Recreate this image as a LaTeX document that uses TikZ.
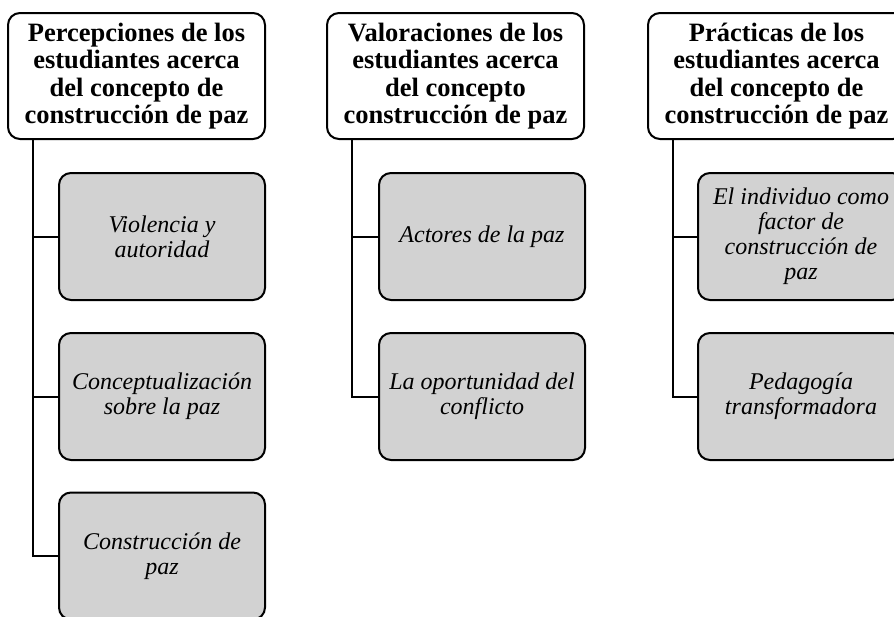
\documentclass[tikz,border=0pt]{standalone}
\usepackage{fontspec}
\setmainfont{Liberation Serif}
\begin{document}
\begin{tikzpicture}[x=1pt,y=-1pt,
  head/.style={draw=black, line width=2pt, rounded corners=12pt, fill=white,
    minimum width=257pt, minimum height=126pt, align=center, inner sep=0pt,
    font=\fontsize{26.5}{27.3}\selectfont\bfseries},
  child/.style={draw=black, line width=2pt, rounded corners=12pt, fill=gray!35,
    minimum width=206pt, minimum height=127pt, align=center, inner sep=0pt,
    font=\fontsize{24}{25}\selectfont\itshape},
  link/.style={draw=black, line width=2pt}]
\useasboundingbox (0,0) rectangle (894,616);
\clip (0,0) rectangle (894,616);
% column 1
\node[head] (h1) at (136.5,76) {Percepciones de los\\estudiantes acerca\\del concepto de\\construcción de paz};
\node[child] (c11) at (162,236.5) {Violencia y\\autoridad};
\node[child] (c12) at (162,396.5) {Conceptualización\\sobre la paz};
\node[child] (c13) at (162,556) {Construcción de\\paz};
% column 2
\node[head] (h2) at (455.5,76) {Valoraciones de los\\estudiantes acerca\\del concepto\\construcción de paz};
\node[child] (c21) at (482,236.5) {Actores de la paz};
\node[child] (c22) at (482,396.5) {La oportunidad del\\conflicto};
% column 3
\node[head] (h3) at (776.5,76) {Prácticas de los\\estudiantes acerca\\del concepto de\\construcción de paz};
\node[child] (c31) at (801,236.5) {El individuo como\\factor de\\construcción de\\paz};
\node[child] (c32) at (801,396.5) {Pedagogía\\transformadora};
% connectors
\draw[link] ([xshift=26pt]h1.south west) |- (c11.west);
\draw[link] ([xshift=26pt]h1.south west) |- (c12.west);
\draw[link] ([xshift=26pt]h1.south west) |- (c13.west);
\draw[link] ([xshift=26pt]h2.south west) |- (c21.west);
\draw[link] ([xshift=26pt]h2.south west) |- (c22.west);
\draw[link] ([xshift=26pt]h3.south west) |- (c31.west);
\draw[link] ([xshift=26pt]h3.south west) |- (c32.west);
\end{tikzpicture}
\end{document}
